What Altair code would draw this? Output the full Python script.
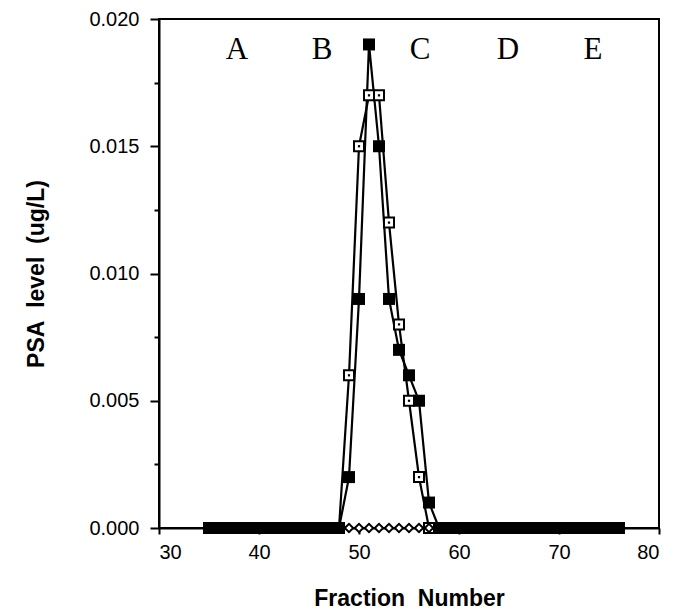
import altair as alt
import pandas as pd

fractions = list(range(35, 77))
filled_peak = {49: 0.002, 50: 0.009, 51: 0.019, 52: 0.015, 53: 0.009,
               54: 0.007, 55: 0.006, 56: 0.005, 57: 0.001}
open_peak = {49: 0.006, 50: 0.015, 51: 0.017, 52: 0.017, 53: 0.012,
             54: 0.008, 55: 0.005, 56: 0.002}
filled_vals = [filled_peak.get(f, 0.0) for f in fractions]
open_vals = [open_peak.get(f, 0.0) for f in fractions]
diamond_vals = [0.0 for f in fractions]

letters = ["A", "B", "C", "D", "E"]
letter_x = [37.8, 46.3, 56.1, 64.9, 73.4]
letter_y = [0.0188] * 5

df_filled = pd.DataFrame({"f": fractions, "v": filled_vals})
df_open = pd.DataFrame({"f": fractions, "v": open_vals})
df_diam = pd.DataFrame({"f": fractions, "v": diamond_vals})
df_letters = pd.DataFrame({"t": letters, "f": letter_x, "v": letter_y})

xscale = alt.Scale(domain=[30, 80], nice=False, zero=False)
yscale = alt.Scale(domain=[0, 0.02], nice=False)

major_test = "abs(datum.value*200 - round(datum.value*200)) < 0.000001"

xaxis = alt.Axis(values=[30, 40, 50, 60, 70, 80],
                 title="Fraction\u00a0\u00a0Number",
                 grid=False, tickSize=6, labelPadding=8, titlePadding=25)
yaxis = alt.Axis(values=[i * 0.0025 for i in range(9)],
                 labelExpr=f"({major_test}) ? format(datum.value, '.3f') : ''",
                 tickSize={"condition": {"test": major_test, "value": 9}, "value": 5},
                 title="PSA\u00a0\u00a0level\u00a0\u00a0(ug/L)", grid=False, labelPadding=11,
                 titlePadding=40)

x_enc = alt.X("f:Q", scale=xscale, axis=xaxis)
y_enc = alt.Y("v:Q", scale=yscale, axis=yaxis)
x_n = alt.X("f:Q", scale=xscale)
y_n = alt.Y("v:Q", scale=yscale)

line_open = alt.Chart(df_open).mark_line(color="black", strokeWidth=2.2).encode(x=x_enc, y=y_enc)
line_filled = alt.Chart(df_filled).mark_line(color="black", strokeWidth=2.2).encode(x=x_n, y=y_n)
pts_open = alt.Chart(df_open).mark_point(shape="square", filled=True, fill="white",
                                         stroke="black", strokeWidth=2, size=100,
                                         opacity=1).encode(x=x_n, y=y_n)
dot_open = alt.Chart(df_open).mark_point(shape="square", filled=True, color="black",
                                         size=5, opacity=1).encode(x=x_n, y=y_n)
pts_diam = alt.Chart(df_diam).mark_point(shape="diamond", filled=True, fill="white",
                                         stroke="black", strokeWidth=2, size=70,
                                         opacity=1).encode(x=x_n, y=y_n)
pts_filled = alt.Chart(df_filled).mark_point(shape="square", filled=True, color="black",
                                             size=144, opacity=1).encode(x=x_n, y=y_n)
txt = alt.Chart(df_letters).mark_text(font="Liberation Serif", fontSize=31,
                                      color="black").encode(x=x_n, y=y_n, text="t:N")

chart = alt.layer(line_open, line_filled, pts_open, dot_open, pts_diam, pts_filled, txt).properties(
    width=500, height=509,
    autosize=alt.AutoSizeParams(type="none"),
    padding={"left": 151, "top": 11, "right": 7, "bottom": 84},
).configure_view(stroke="black", strokeWidth=2).configure_axis(
    domainColor="black", domainWidth=2, tickColor="black", tickWidth=2,
    labelFont="Liberation Sans", labelFontSize=20, labelColor="black",
    titleFont="Liberation Sans", titleFontSize=23, titleFontWeight="bold",
    titleColor="black"
)

chart.save("out.html", embed_options={"renderer": "svg", "actions": False})
